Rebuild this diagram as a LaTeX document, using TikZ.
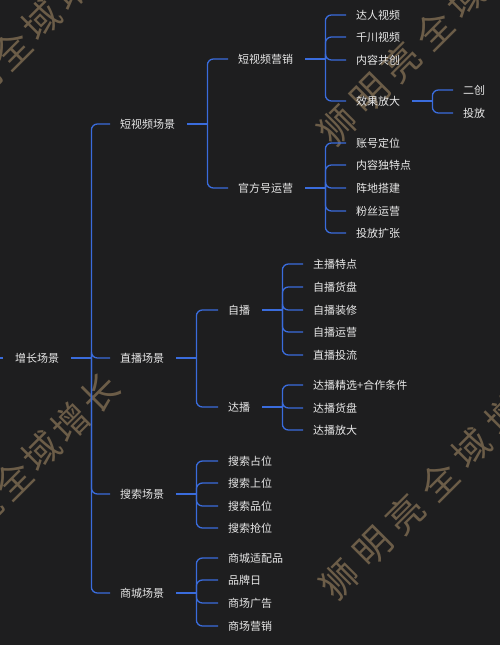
\documentclass[tikz,border=0pt]{standalone}
\usepackage{fontspec}
\newfontfamily\cjk{Noto Sans CJK SC}
\definecolor{bgc}{RGB}{30,30,31}
\definecolor{linec}{RGB}{58,108,220}
\definecolor{txtc}{RGB}{232,232,232}
\definecolor{wmc}{RGB}{108,93,72}
\tikzset{
  lbl/.style={anchor=west, inner sep=0pt, text=txtc, font=\cjk\fontsize{11}{13}\selectfont},
  conn/.style={draw=linec, line width=1.3pt},
  wm/.style={text=wmc, font=\cjk\fontsize{37}{39}\selectfont, inner sep=0pt}
}
\newcommand{\mmbranch}[2]{%
  \coordinate (#1-b) at ([xshift=32pt]#1.east);
  \draw[conn] ([xshift=12pt]#1.east) -- (#1-b);
  \foreach \c in {#2} {\draw[conn, rounded corners=6pt] (#1-b) |- ([xshift=-10pt]\c.west);}
}
\newcommand{\wmark}[3]{%
  \foreach \ch [count=\i from 0] in {狮,明,亮,全,域,增,长}
    \node[wm, rotate=45] at ({#1+#3*\i}, {#2-#3*\i}) {\ch};
}
\begin{document}
\begin{tikzpicture}[x=1pt, y=-1pt]
\fill[bgc] (0,0) rectangle (500,645);
\useasboundingbox (0,0) rectangle (500,645);
% watermarks
\wmark{338}{126}{32}
\wmark{340}{580}{33}
\wmark{-74}{567}{29}
\wmark{-78}{140}{30}
% nodes
\node[lbl] (root) at (15,358) {增长场景};
\node[lbl] (s1) at (120,124) {短视频场景};
\node[lbl] (s2) at (120,358) {直播场景};
\node[lbl] (s3) at (120,494) {搜索场景};
\node[lbl] (s4) at (120,593) {商城场景};
\node[lbl] (a1) at (238,59) {短视频营销};
\node[lbl] (a2) at (238,188) {官方号运营};
\node[lbl] (a11) at (356,15) {达人视频};
\node[lbl] (a12) at (356,37) {千川视频};
\node[lbl] (a13) at (356,60) {内容共创};
\node[lbl] (a14) at (356,101) {效果放大};
\node[lbl] (a141) at (463,90) {二创};
\node[lbl] (a142) at (463,113) {投放};
\node[lbl] (a21) at (356,143) {账号定位};
\node[lbl] (a22) at (356,165) {内容独特点};
\node[lbl] (a23) at (356,188) {阵地搭建};
\node[lbl] (a24) at (356,211) {粉丝运营};
\node[lbl] (a25) at (356,233) {投放扩张};
\node[lbl] (b1) at (228,310) {自播};
\node[lbl] (b2) at (228,407) {达播};
\node[lbl] (b11) at (313,264) {主播特点};
\node[lbl] (b12) at (313,287) {自播货盘};
\node[lbl] (b13) at (313,310) {自播装修};
\node[lbl] (b14) at (313,332) {自播运营};
\node[lbl] (b15) at (313,355) {直播投流};
\node[lbl] (b21) at (313,385) {达播精选+合作条件};
\node[lbl] (b22) at (313,408) {达播货盘};
\node[lbl] (b23) at (313,430) {达播放大};
\node[lbl] (c1) at (228,461) {搜索占位};
\node[lbl] (c2) at (228,483) {搜索上位};
\node[lbl] (c3) at (228,506) {搜索品位};
\node[lbl] (c4) at (228,528) {搜索抢位};
\node[lbl] (d1) at (228,558) {商城适配品};
\node[lbl] (d2) at (228,580) {品牌日};
\node[lbl] (d3) at (228,603) {商场广告};
\node[lbl] (d4) at (228,626) {商场营销};
% connectors
\coordinate (lefts) at (0,358);
\draw[conn] (lefts) -- ([xshift=-12pt]root.west);
\mmbranch{root}{s1,s2,s3,s4}
\mmbranch{s1}{a1,a2}
\mmbranch{a1}{a11,a12,a13,a14}
\mmbranch{a14}{a141,a142}
\mmbranch{a2}{a21,a22,a23,a24,a25}
\mmbranch{s2}{b1,b2}
\mmbranch{b1}{b11,b12,b13,b14,b15}
\mmbranch{b2}{b21,b22,b23}
\mmbranch{s3}{c1,c2,c3,c4}
\mmbranch{s4}{d1,d2,d3,d4}
\end{tikzpicture}
\end{document}
